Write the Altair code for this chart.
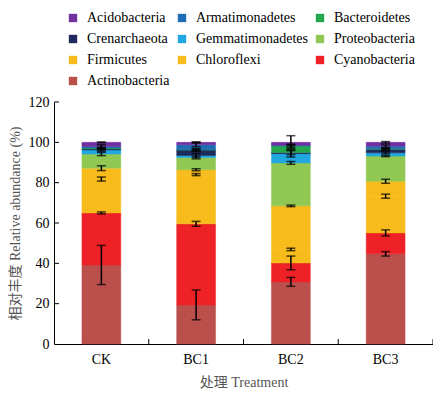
import altair as alt
import pandas as pd

treatments = ["CK", "BC1", "BC2", "BC3"]
phyla = ["Acidobacteria", "Armatimonadetes", "Bacteroidetes", "Crenarchaeota",
         "Gemmatimonadetes", "Proteobacteria", "Firmicutes", "Chloroflexi",
         "Cyanobacteria", "Actinobacteria"]
colors = ["#7030A0", "#1F6DB4", "#22A74F", "#1E2A5C", "#22A8E0", "#91C853",
          "#F7BC1C", "#F7BC1C", "#EE2226", "#BB4F4C"]

# stacking order bottom -> top
stack_order = ["Actinobacteria", "Cyanobacteria", "Chloroflexi", "Firmicutes",
               "Proteobacteria", "Gemmatimonadetes", "Crenarchaeota",
               "Bacteroidetes", "Armatimonadetes", "Acidobacteria"]

# mean relative abundance (%) per treatment, in stack_order
ck_vals  = [39.2, 25.8, 16.8, 5.4, 7.0, 2.0, 0.5, 0.5, 0.7, 2.1]
bc1_vals = [19.4, 40.2, 24.4, 2.4, 6.1, 1.0, 2.7, 0.1, 2.5, 1.2]
bc2_vals = [30.8, 9.4, 6.7, 21.6, 21.3, 4.6, 0.5, 3.3, 0.3, 1.5]
bc3_vals = [44.7, 10.4, 18.2, 7.4, 12.5, 1.6, 1.8, 0.2, 1.3, 1.9]

# standard errors, in stack_order
ck_err  = [9.7, 0.5, 1.0, 1.2, 0.8, 0.6, 0.5, 0.4, 0.9, 0.2]
bc1_err = [7.4, 1.2, 0.5, 0.5, 0.7, 1.0, 0.6, 0.3, 1.0, 0.3]
bc2_err = [2.2, 3.4, 0.6, 0.4, 0.7, 1.7, 1.0, 0.9, 0.3, 3.3]
bc3_err = [1.1, 1.5, 1.0, 1.0, 0.3, 0.5, 0.5, 0.3, 0.6, 0.4]

y_ticks = [20, 40, 60, 80, 100, 120]

rows = []
for t, vals, errs in zip(treatments, [ck_vals, bc1_vals, bc2_vals, bc3_vals],
                         [ck_err, bc1_err, bc2_err, bc3_err]):
    cum = 0.0
    for p, v, e in zip(stack_order, vals, errs):
        rows.append({"Treatment": t, "Phylum": p, "y0": cum, "y1": cum + v,
                     "lo": cum + v - e, "hi": cum + v + e})
        cum += v
df = pd.DataFrame(rows)

FONT = "Liberation Serif, Times New Roman, DejaVu Serif, serif, Noto Sans CJK SC"

x_enc = alt.X("Treatment:N", sort=treatments,
              scale=alt.Scale(paddingInner=0, paddingOuter=0),
              axis=alt.Axis(title="处理 Treatment", labelAngle=0, tickSize=0,
                            labelPadding=8, titlePadding=9))

color_scale = alt.Scale(domain=phyla, range=colors)

bars = alt.Chart(df).mark_bar(width={"band": 0.41}, strokeWidth=0.5).encode(
    x=x_enc,
    y=alt.Y("y1:Q", scale=alt.Scale(domain=[0, 120], nice=False),
            axis=alt.Axis(title="相对丰度 Relative abundance (%)", values=[0, 20, 40, 60, 80, 100, 120],
                          tickSize=0, labelPadding=5, titlePadding=6, grid=False)),
    y2="y0:Q",
    color=alt.Color("Phylum:N", scale=color_scale,
                    legend=alt.Legend(title=None, orient="none", legendX=12, legendY=-91,
                                      direction="horizontal", gridAlign="each",
                                      columns=3, symbolType="square", symbolSize=70,
                                      symbolStrokeWidth=0, labelOffset=7, rowPadding=7,
                                      columnPadding=5, labelFontSize=14, labelFont=FONT,
                                      labelColor="#000", padding=0)),
    stroke=alt.Stroke("Phylum:N", scale=color_scale, legend=None),
)

err_rule = alt.Chart(df).mark_rule(color="black", strokeWidth=1.5).encode(
    x=alt.X("Treatment:N", sort=treatments), y="lo:Q", y2="hi:Q")
cap_lo = alt.Chart(df).mark_tick(color="black", size=9, thickness=1.5).encode(
    x=alt.X("Treatment:N", sort=treatments), y="lo:Q")
cap_hi = alt.Chart(df).mark_tick(color="black", size=9, thickness=1.5).encode(
    x=alt.X("Treatment:N", sort=treatments), y="hi:Q")

yt = alt.Chart(pd.DataFrame({"v": y_ticks})).mark_rule(color="black", strokeWidth=1).encode(
    y="v:Q", x=alt.value(0), x2=alt.value(5))
xt = alt.Chart(pd.DataFrame({"Treatment": treatments[1:]})).mark_rule(color="black", strokeWidth=1).encode(
    x=alt.X("Treatment:N", sort=treatments, bandPosition=0), y=alt.value(242), y2=alt.value(237))
xt_end = alt.Chart(pd.DataFrame({"Treatment": treatments[-1:]})).mark_rule(color="black", strokeWidth=1).encode(
    x=alt.X("Treatment:N", sort=treatments, bandPosition=1), y=alt.value(242), y2=alt.value(237))

chart = alt.layer(bars, err_rule, cap_lo, cap_hi, yt, xt, xt_end).properties(
    width=379, height=242,
    autosize=alt.AutoSizeParams(type="none"),
    padding={"top": 94, "left": 46, "right": 0, "bottom": 48},
).configure_view(stroke=None).configure_axis(
    labelFont=FONT, titleFont=FONT, labelFontSize=14, titleFontSize=14,
    labelColor="#000", titleColor="#555", titleFontWeight="normal",
    domainColor="#000", domainWidth=1,
).configure_legend(labelFont=FONT, labelFontSize=14, labelColor="#000")

chart.save("out.html", embed_options={"renderer": "svg", "actions": False})
